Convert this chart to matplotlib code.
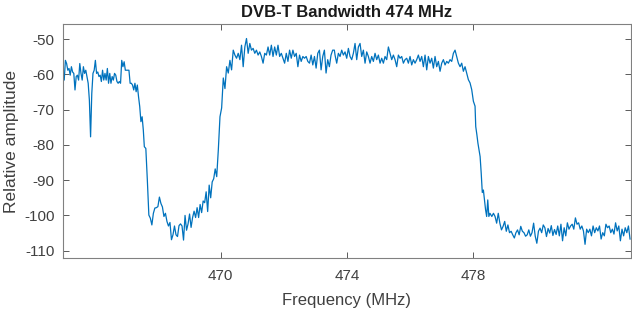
import numpy as np
import matplotlib
matplotlib.use("Agg")
import matplotlib.pyplot as plt

# spectrum, split into pieces (start MHz, end MHz, dB values)
left_span = (465.00, 467.545)
left_amp = [-59.3, -61.6, -56, -56.9, -58.8, -58.3, -60.2, -57.8, -59.3, -59.7,
            -64.4, -60.6, -60.2, -61.6, -56.9, -59.7, -61.6, -57.8, -59.7, -58.8,
            -60.6, -62.5, -67.3, -77.7, -65.4, -59.7, -58.8, -56, -59.7, -59.3,
            -60.6, -60.2, -62, -58.8, -61.6, -59.7, -61.6, -58.3, -62.5, -59.7,
            -62.5, -60.6, -61.6, -59.7, -60.2, -62, -62.5, -62, -62.5, -56,
            -57.8, -56.4, -58.8, -58.8, -58.8, -58.8, -62.5, -62.5, -63, -64.4,
            -62.5, -64.9, -63, -66.3, -69.1, -73.4, -72, -75.8]

trough_span = (467.577, 469.871)
trough_amp = [-80.5, -81, -90, -99.9, -100.8, -102.7, -99.4, -97.9, -97.8, -97.5,
              -94.8, -96.6, -97.6, -100.3, -99.4, -101.7, -103, -102, -106.9, -105.5,
              -103, -105.5, -106, -102.9, -102.4, -103, -107, -100, -104.2, -102.4,
              -99.6, -103.4, -100.6, -98.8, -100.6, -97.8, -100.6, -96.9, -99.2, -95.9,
              -96.4, -93.3, -98.9, -91.4, -95, -90.5, -89.6, -86.8, -89]

top1_span = (469.922, 473.599)
top1_amp = [-81.4, -72, -69.5, -61, -64, -57.8, -59.6, -56, -58.7, -53.1,
            -54.5, -55.4, -54, -55.8, -51.7, -57.8, -52.2, -49.8, -54, -51.2,
            -53.1, -52.6, -54, -53.1, -54.5, -53.6, -54.9, -56.8, -54, -54.5,
            -52.2, -54.5, -51.7, -54.9, -52.2, -54.5, -51.7, -54.9, -54, -55.4,
            -56.8, -54, -56.3, -53.1, -55.4, -53.1, -54.9, -54, -57.8, -54.5,
            -56.3, -54.9, -55.4, -54.9, -56.3, -56.8, -54.5, -57.3, -54.9, -58.2,
            -54, -53.1, -58.7, -54.9, -53.1, -59.6, -55.8, -57.8, -54.5, -53.1,
            -53.1]

top2_span = (473.621, 478.058)
top2_amp = [-54.5, -56.8, -54, -54.9, -53.1, -54.5, -53.6, -55.4, -52.6, -54.9,
            -55.8, -54, -51.2, -55.8, -52.2, -51.2, -54.9, -53.1, -56.8, -53.6,
            -54.9, -56.8, -54.9, -56.3, -54, -55.8, -54.5, -56.8, -55.4, -56.8,
            -54.9, -55.8, -52.2, -54, -55.8, -54.5, -55.8, -57.8, -54.5, -55.4,
            -54.9, -56.8, -55.8, -55.4, -56.8, -54.9, -57.3, -55.8, -56.8, -55.8,
            -54.5, -56.3, -54.9, -57.8, -54.5, -58.7, -54.9, -56.8, -55.4, -58.2,
            -54.9, -57.8, -56.3, -59.1, -56.8, -55.8, -57.3, -56.3, -56.8, -55.8,
            -56.3, -54, -53.1, -54.9, -56.8, -57.8, -56.8, -59.1, -57.8, -59.6,
            -61.5, -62.4, -64.3, -67.6, -69]

fall_span = (478.08, 478.53)
fall_amp = [-74.8, -77, -79.5, -81.4, -83.3, -88, -93.5, -92.8, -95.6, -98.4,
            -100.3, -95.6, -100.3, -99.4]

floor_span = (478.59, 482.97)
floor_amp = [-100.3, -99.4, -100.3, -102.2, -99.4, -102.2, -104.1, -103.1, -101.7, -104.5,
             -102.7, -104.9, -104.5, -105.5, -106.4, -104.9, -104.1, -105.5, -103.1, -104.5,
             -104.9, -105.9, -105.5, -104.1, -105.9, -104.9, -102.2, -105.9, -107.9, -104.5,
             -103.6, -104.9, -102.7, -103.5, -106, -103.7, -105, -102.9, -105.7, -104,
             -105.4, -103, -105.8, -102.5, -107.2, -103.5, -105.8, -102.1, -103.9, -103,
             -102.5, -103.9, -100.7, -102.5, -102.1, -103.9, -103, -104.4, -108.2, -103.9,
             -104.9, -103.9, -105.8, -103, -104.9, -103.5, -104.4, -103, -106.7, -104.9,
             -105.8, -102.5, -103.5, -103, -104.9, -103.9, -105.3, -102.1, -104.4, -103,
             -107.2, -103.9, -105.8, -103.5, -104.9, -103, -106.7]

pieces = [(left_span, left_amp), (trough_span, trough_amp), (top1_span, top1_amp),
          (top2_span, top2_amp), (fall_span, fall_amp), (floor_span, floor_amp)]

freq = np.concatenate([np.linspace(s[0], s[1], len(a)) for s, a in pieces])
amp = np.concatenate([np.array(a, dtype=float) for s, a in pieces])

plt.rcParams['font.family'] = ['Liberation Sans', 'DejaVu Sans']
plt.rcParams['axes.unicode_minus'] = False

fig = plt.figure(figsize=(6.32, 3.09), dpi=100)
ax = fig.add_axes([0.0997, 0.166, 0.8987, 0.755])
ax.plot(freq, amp, color='#0072BD', lw=0.9)

ax.set_xlim(465, 483)
ax.set_ylim(-112, -45.8)
ax.set_xticks([470, 474, 478])
ax.set_yticks([-110, -100, -90, -80, -70, -60, -50])
ax.tick_params(direction='in', top=True, right=True, length=4, width=0.6,
               colors='#404040', labelsize=11, pad=6)
ax.tick_params(axis='x', pad=8)
for sp in ax.spines.values():
    sp.set_color('#808080')
    sp.set_linewidth(0.8)

ax.set_xlabel('Frequency (MHz)', fontsize=12, color='#404040', labelpad=7)
ax.set_ylabel('Relative amplitude', fontsize=12.5, color='#404040', labelpad=4)
ax.set_title('DVB-T Bandwidth 474 MHz', fontsize=12, fontweight='bold', color='#1a1a1a', pad=5)

fig.savefig('out.png', dpi=100)
